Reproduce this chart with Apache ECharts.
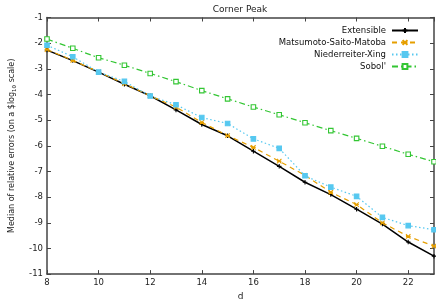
<!DOCTYPE html>
<html><head><meta charset="utf-8">
<script src="https://cdn.jsdelivr.net/npm/echarts@6/dist/echarts.min.js"></script>
<style>html,body{margin:0;padding:0;background:#fff}#c{width:436px;height:306px}</style>
</head><body><div id="c"></div>
<script>
const dims = [8,9,10,11,12,13,14,15,16,17,18,19,20,21,22,23];
const extensible = [-2.27,-2.68,-3.13,-3.60,-4.05,-4.60,-5.17,-5.61,-6.21,-6.80,-7.42,-7.90,-8.47,-9.05,-9.75,-10.30];
const msm = [-2.25,-2.67,-3.12,-3.58,-4.05,-4.49,-5.09,-5.60,-6.06,-6.60,-7.15,-7.81,-8.29,-9.00,-9.53,-9.91];
const nx = [-2.08,-2.53,-3.13,-3.49,-4.06,-4.40,-4.90,-5.13,-5.73,-6.10,-7.17,-7.61,-7.97,-8.79,-9.11,-9.27];
const sobol = [-1.84,-2.20,-2.57,-2.86,-3.18,-3.50,-3.85,-4.17,-4.49,-4.79,-5.10,-5.41,-5.71,-6.02,-6.33,-6.62];
const names = ['Extensible','Matsumoto-Saito-Matoba','Niederreiter-Xing','Sobol\''];

const F = 'DejaVu Sans';
const AX = '#444';
const plusPath = 'path://M0,5L10,5M5,0L5,10';
const xPath = 'path://M0,0L10,10M10,0L0,10M0,5L10,5';
function pairs(v){ return dims.map((d,i)=>[d,v[i]]); }
function mk(name, v, color, type, symbol, filled, size){
  return {
    name, type:'line', data: pairs(v), symbol, symbolSize: size,
    showSymbol:true,
    lineStyle:{color, width: name==='Extensible'?1.5:1.2, type},
    itemStyle:{color: filled?color:'#fff', borderColor: color, borderWidth: 1.1},
    emphasis:{disabled:true}, animation:false
  };
}
const axisCommon = {
  axisLine:{show:true, onZero:false, lineStyle:{color:AX, width:1.5}},
  axisTick:{show:true, inside:true, length:4, lineStyle:{color:AX,width:1}},
  splitLine:{show:false}
};
const chart = echarts.init(document.getElementById('c'));
chart.setOption({
  animation:false,
  title:{text:'Corner Peak', left:235, textAlign:'center', top:0, textStyle:{fontFamily:F, fontSize:9, fontWeight:'normal', color:'#222'}},
  legend:{
    orient:'vertical', right:12, top:21, align:'right', itemWidth:26, itemHeight:6, itemGap:3,
    textStyle:{fontFamily:F, fontSize:8.5, color:'#111', padding:[0,1,0,0]},
    data: names
  },
  grid:{left:36, right:2, top:17.5, bottom:28, show:false},
  xAxis:[
    Object.assign({type:'value', min:8, max:23, interval:2, position:'bottom',
      name:'d', nameLocation:'middle', nameGap:17, nameTextStyle:{fontFamily:F, fontSize:9, color:'#222'},
      axisLabel:{fontFamily:F, fontSize:8.5, color:'#222', margin:4, showMaxLabel:false}}, axisCommon),
    Object.assign({type:'value', min:8, max:23, interval:2, position:'top',
      axisLabel:{show:false}}, axisCommon)
  ],
  yAxis:[
    Object.assign({type:'value', min:-11, max:-1, interval:1, position:'left',
      name:'{a|Median of relative errors (on a $log}{s|10}{a| scale)}', nameLocation:'middle', nameGap:29,
      nameTextStyle:{fontFamily:F, fontSize:8, color:'#222', rich:{
        a:{fontFamily:F, fontSize:8, color:'#222', lineHeight:12},
        s:{fontFamily:F, fontSize:5.5, color:'#222', lineHeight:12, verticalAlign:'bottom', padding:[3,0,0,0]}}},
      axisLabel:{fontFamily:F, fontSize:8.5, color:'#222', margin:4}}, axisCommon),
    Object.assign({type:'value', min:-11, max:-1, interval:1, position:'right',
      axisLabel:{show:false}}, axisCommon)
  ],
  series:[
    mk(names[0], extensible, '#000000', 'solid', plusPath, true, 4.5),
    mk(names[1], msm, '#e69f00', [5,4], xPath, true, 4.5),
    mk(names[2], nx, '#56c8f0', [1.5,2.5], 'rect', true, 4.5),
    mk(names[3], sobol, '#33c633', [6,3,1.5,3], 'rect', false, 4.5)
  ]
});
</script></body></html>
